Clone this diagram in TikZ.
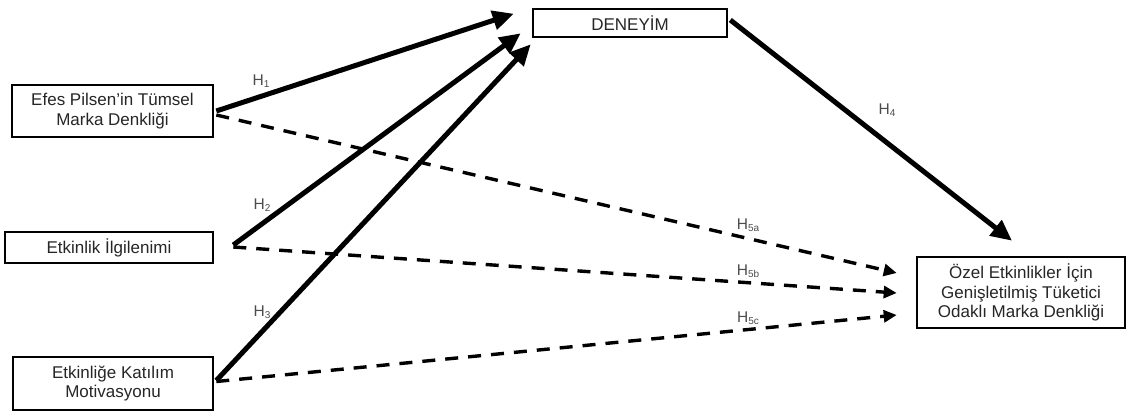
\documentclass[tikz,border=0pt]{standalone}
\usepackage{fontspec}
\setmainfont{Liberation Sans}
\usetikzlibrary{calc,arrows.meta}

\tikzset{
  box/.style={draw=black, line width=2.6pt, fill=white, align=center,
    inner sep=0pt, text=black!85,
    font=\fontsize{17}{19.5}\selectfont},
  solidarrow/.style={line width=5pt, -{Triangle[length=21pt,width=19pt]}},
  dasharrow/.style={line width=3.4pt, dash pattern=on 13pt off 10pt,
    -{Triangle[length=13pt,width=12pt]}},
  hyp/.style={text=black!70, inner sep=0pt, font=\fontsize{15.5}{16}\selectfont},
}
\newcommand{\hsub}[1]{\raisebox{-0.2ex}{\fontsize{10}{11}\selectfont #1}}

\begin{document}
\begin{tikzpicture}[x=1pt,y=-1pt]
  \useasboundingbox (0,0) rectangle (1129,415);

  % constructs
  \node[box, minimum width=201pt, minimum height=52pt] (efes) at (112.5,111)
    {Efes Pilsen'in Tümsel\\Marka Denkliği};
  \node[box, minimum width=194pt, minimum height=28pt] (den) at (630,23)
    {DENEYİM};
  \node[box, minimum width=208pt, minimum height=31pt] (ilgi) at (109,247.5)
    {Etkinlik İlgilenimi};
  \node[box, minimum width=200pt, minimum height=53pt] (motiv) at (113,383.5)
    {Etkinliğe Katılım\\Motivasyonu};
  \node[box, minimum width=208pt, minimum height=71pt] (ozel) at (1021,292.5)
    {Özel Etkinlikler İçin\\Genişletilmiş Tüketici\\Odaklı Marka Denkliği};

  % direct paths to experience and outcome
  \draw[solidarrow] ($(efes.east)+(2,0)$) -- ($(den.north west)+(-18,6)$);
  \draw[solidarrow] ($(ilgi.east)+(19,-2.5)$) -- ($(den.south west)+(-11,-5)$);
  \draw[solidarrow] ($(motiv.east)+(2,-3)$) -- ($(den.south west)+(-1,6)$);
  \draw[solidarrow] ($(den.east)+(2,-3)$) -- ($(ozel.north)+(-9,-15)$);

  % paths to the outcome
  \draw[dasharrow] ($(efes.east)+(2,4)$) -- ($(ozel.west)+(-19,-19.5)$);
  \draw[dasharrow] ($(ilgi.east)+(19,-0.5)$) -- ($(ozel.west)+(-19,0.5)$);
  \draw[dasharrow] ($(motiv.east)+(2,-2)$) -- ($(ozel.west)+(-19,22.5)$);

  % hypothesis labels
  \node[hyp] (h1) at (261,81) {H\hsub{1}};
  \node[hyp] (h2) at (262,205) {H\hsub{2}};
  \node[hyp] (h3) at (262,312) {H\hsub{3}};
  \node[hyp] (h4) at (887,110) {H\hsub{4}};
  \node[hyp] (h5a) at (748,225) {H\hsub{5a}};
  \node[hyp] (h5b) at (748,271) {H\hsub{5b}};
  \node[hyp] (h5c) at (748,318) {H\hsub{5c}};
\end{tikzpicture}
\end{document}
